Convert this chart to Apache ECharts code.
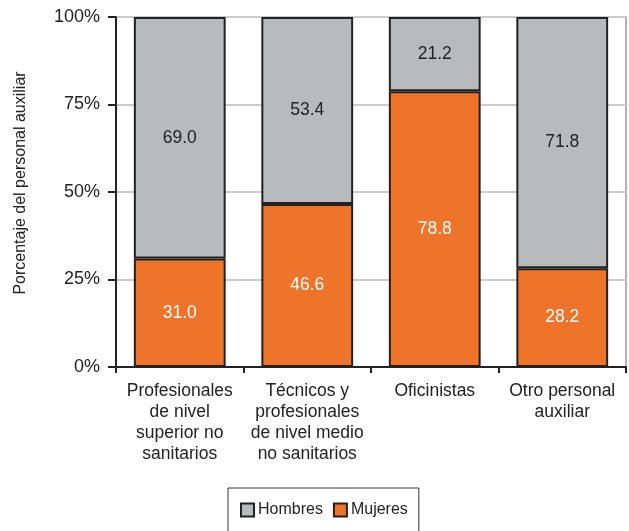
<!DOCTYPE html>
<html>
<head>
<meta charset="utf-8">
<script src="https://cdn.jsdelivr.net/npm/echarts@6/dist/echarts.min.js"></script>
<style>
  html, body { margin: 0; padding: 0; background: #fff; }
  #chart { width: 629px; height: 531px; }
</style>
</head>
<body>
<div id="chart"></div>
<script>
const categories = [
  'Profesionales\nde nivel\nsuperior no\nsanitarios',
  'Técnicos y\nprofesionales\nde nivel medio\nno sanitarios',
  'Oficinistas',
  'Otro personal\nauxiliar'
];
const mujeres = [31.0, 46.6, 78.8, 28.2];
const hombres = [69.0, 53.4, 21.2, 71.8];
const yTicks = [0, 25, 50, 75, 100];

const font = 'Liberation Sans, Arial, sans-serif';

const chart = echarts.init(document.getElementById('chart'));

chart.setOption({
  animation: false,
  textStyle: { fontFamily: font },
  grid: {
    left: 116, right: 3, top: 17, bottom: 164,
    outerBoundsMode: 'none',
    show: true, borderColor: '#999', borderWidth: 1.5
  },
  legend: {
    data: ['Hombres', 'Mujeres'],
    left: 228,
    top: 488,
    padding: [14, 11, 16, 12],
    borderColor: '#333',
    borderWidth: 1,
    itemWidth: 13,
    itemHeight: 13,
    itemGap: 10,
    icon: 'rect',
    textStyle: { fontFamily: font, fontSize: 16, color: '#222', padding: [0, 0, 0, -1] }
  },
  xAxis: {
    type: 'category',
    data: categories,
    axisLine: { lineStyle: { color: '#222', width: 2 } },
    axisTick: { show: true, length: 6, lineStyle: { color: '#222', width: 2 } },
    axisLabel: { color: '#222', fontSize: 17.5, lineHeight: 21, margin: 14, interval: 0 }
  },
  yAxis: {
    type: 'value',
    min: 0, max: 100, interval: 25,
    name: 'Porcentaje del personal auxiliar',
    nameLocation: 'middle',
    nameGap: 87,
    nameTextStyle: { color: '#222', fontSize: 16, fontFamily: font, padding: [0, 0, 0, 18] },
    axisLine: { show: true, lineStyle: { color: '#222', width: 2 } },
    axisTick: { show: true, length: 8, lineStyle: { color: '#222', width: 2 } },
    axisLabel: {
      color: '#222', fontSize: 18, margin: 16,
      formatter: v => yTicks.includes(v) ? v + '%' : ''
    },
    splitLine: { lineStyle: { color: '#ccc', width: 2 } }
  },
  series: [
    {
      name: 'Mujeres',
      type: 'bar',
      stack: 'total',
      data: mujeres,
      barWidth: '72%',
      itemStyle: { color: '#ed7428', borderColor: '#222', borderWidth: 2 },
      label: {
        show: true, position: 'inside', color: '#fff', fontSize: 17.5,
        formatter: p => p.value.toFixed(1)
      }
    },
    {
      name: 'Hombres',
      type: 'bar',
      stack: 'total',
      data: hombres,
      barWidth: '72%',
      itemStyle: { color: '#b8bbbe', borderColor: '#222', borderWidth: 2 },
      label: {
        show: true, position: 'inside', color: '#222', fontSize: 17.5,
        formatter: p => p.value.toFixed(1)
      }
    }
  ]
});
</script>
</body>
</html>
